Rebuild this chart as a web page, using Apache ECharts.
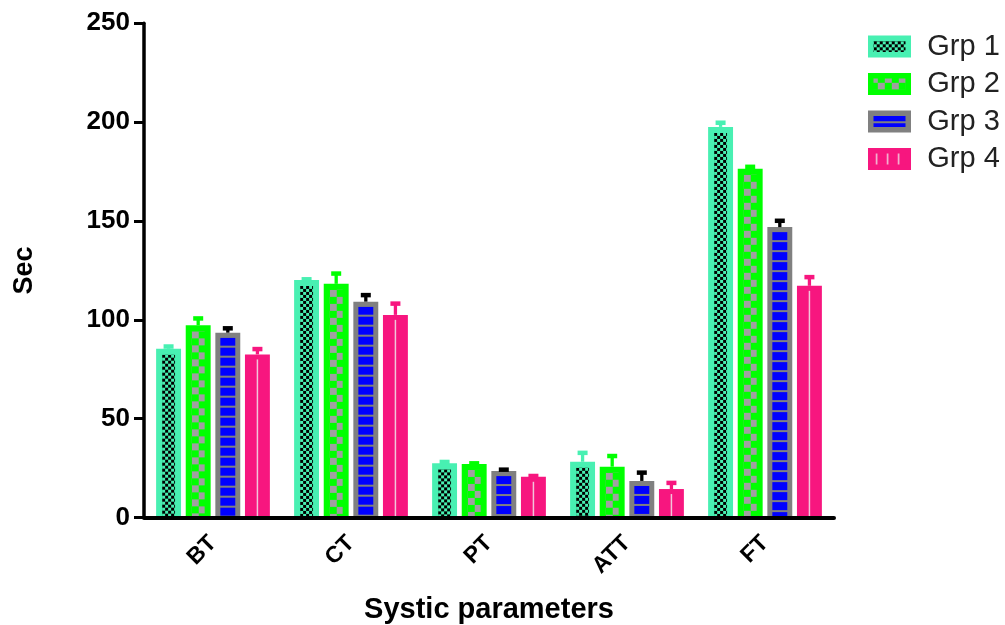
<!DOCTYPE html>
<html>
<head>
<meta charset="utf-8">
<script src="https://cdn.jsdelivr.net/npm/echarts@6/dist/echarts.min.js"></script>
<style>html,body{margin:0;padding:0;background:#fff;}#c{width:1005px;height:625px;}</style>
</head>
<body>
<div id="c"></div>
<script>
var categories = ['BT', 'CT', 'PT', 'ATT', 'FT'];
var groupNames = ['Grp 1', 'Grp 2', 'Grp 3', 'Grp 4'];
var grp1Mean = [85.4, 120.2, 27.4, 28.2, 197.6];
var grp1Err  = [1.1, 0.3, 0.7, 4.5, 2.1];
var grp2Mean = [97.2, 118.2, 27.1, 25.7, 176.4];
var grp2Err  = [3.5, 5.2, 0.3, 5.4, 1.0];
var grp3Mean = [93.5, 109.2, 23.5, 18.5, 146.9];
var grp3Err  = [2.2, 3.3, 0.7, 4.2, 3.2];
var grp4Mean = [82.5, 102.5, 20.6, 14.4, 117.2];
var grp4Err  = [2.7, 5.7, 0.4, 3.1, 4.4];
var yTicks = [0, 50, 100, 150, 200, 250];

var means = [grp1Mean, grp2Mean, grp3Mean, grp4Mean];
var errs = [grp1Err, grp2Err, grp3Err, grp4Err];

var AQUA = '#48F0B2', LIME = '#00FF00', GRAY = '#808080', BLUE = '#0000FF', PINK = '#F7167F';
var mainColors = [AQUA, LIME, GRAY, PINK];
var capColors = [AQUA, LIME, '#000000', PINK];

function mkCanvas(w, h, draw) {
  var c = document.createElement('canvas');
  c.width = w; c.height = h;
  draw(c.getContext('2d'));
  return c;
}
var img1 = mkCanvas(6, 6, function (g) {
  g.fillStyle = AQUA; g.fillRect(0, 0, 6, 6);
  g.fillStyle = '#000'; g.fillRect(0, 0, 3, 3); g.fillRect(3, 3, 3, 3);
});
var img2 = mkCanvas(14, 14, function (g) {
  g.fillStyle = LIME; g.fillRect(0, 0, 14, 14);
  g.fillStyle = '#A0A0A0'; g.fillRect(0, 0, 7, 7); g.fillRect(7, 7, 7, 7);
});
var img3 = mkCanvas(4, 10, function (g) {
  g.fillStyle = BLUE; g.fillRect(0, 0, 4, 10);
  g.fillStyle = GRAY; g.fillRect(0, 8, 4, 2);
});
var img4 = mkCanvas(11, 4, function (g) {
  g.fillStyle = PINK; g.fillRect(0, 0, 11, 4);
  g.fillStyle = '#F2C4DA'; g.fillRect(5, 0, 1.5, 4);
});
var imgs = [img1, img2, img3, null];
var borderW = [6, 6, 5, 0];

function makeRender(gi) {
  return function (params, api) {
    var cat = api.value(0), mean = api.value(1), err = api.value(2);
    var base = api.coord([cat, 0]);
    var top = api.coord([cat, mean]);
    var eTop = api.coord([cat, mean + err]);
    var band = api.size([1, 0])[0];
    var pitch = band * 0.2146, w = band * 0.1806;
    var cx = base[0] + (gi - 1.5) * pitch;
    var x0 = cx - w / 2;
    var h = base[1] - top[1];
    var children = [];
    children.push({ type: 'rect', shape: { x: x0, y: top[1], width: w, height: h }, style: { fill: mainColors[gi] } });
    var bw = borderW[gi];
    if (imgs[gi]) {
      children.push({ type: 'rect', shape: { x: x0 + bw, y: top[1] + bw, width: w - 2 * bw, height: Math.max(0, h - bw) },
        style: { fill: { image: imgs[gi], repeat: 'repeat', x: x0 + bw, y: top[1] + bw } } });
    } else {
      children.push({ type: 'rect', shape: { x: cx - 0.75, y: top[1] + 5, width: 1.5, height: Math.max(0, h - 5) }, style: { fill: '#F2C4DA' } });
    }
    children.push({ type: 'rect', shape: { x: cx - 1.65, y: eTop[1], width: 3.3, height: top[1] - eTop[1] }, style: { fill: capColors[gi] } });
    children.push({ type: 'rect', shape: { x: cx - 5, y: eTop[1] - 2.25, width: 10, height: 4.5 }, style: { fill: capColors[gi] } });
    return { type: 'group', children: children };
  };
}

var series = groupNames.map(function (name, gi) {
  return {
    name: name,
    type: 'custom',
    renderItem: makeRender(gi),
    encode: { x: 0, y: 1 },
    itemStyle: { color: mainColors[gi] },
    data: categories.map(function (c, i) { return [i, means[gi][i], errs[gi][i]]; })
  };
});

var legendPatterns = [
  { image: img1, repeat: 'repeat' },
  { image: img2, repeat: 'repeat' },
  { image: img3, repeat: 'repeat' },
  { image: img4, repeat: 'repeat' }
];

var chart = echarts.init(document.getElementById('c'), null, { renderer: 'canvas' });
chart.setOption({
  animation: false,
  backgroundColor: '#fff',
  grid: { left: 144, right: 171, top: 23.3, bottom: 107.5, containLabel: false, outerBoundsMode: 'none' },
  legend: {
    orient: 'vertical',
    left: 868, top: 32,
    padding: 0,
    icon: 'rect',
    itemWidth: 37.5, itemHeight: 16.5, itemGap: 8.5,
    textStyle: { fontFamily: 'Liberation Sans', fontSize: 29, color: '#222', lineHeight: 29, padding: [0, 0, 0, 14] },
    data: groupNames.map(function (n, gi) {
      return { name: n, itemStyle: { color: legendPatterns[gi], borderColor: mainColors[gi], borderWidth: 5.5 } };
    })
  },
  xAxis: {
    type: 'category',
    data: categories,
    z: 5,
    name: 'Systic parameters',
    nameLocation: 'middle',
    nameGap: 78,
    nameTextStyle: { fontFamily: 'Liberation Sans', fontWeight: 'bold', fontSize: 29, color: '#000' },
    axisLine: { lineStyle: { color: '#000', width: 4 } },
    axisTick: { alignWithLabel: true, length: 8, lineStyle: { color: '#000', width: 3 } },
    axisLabel: { rotate: 45, margin: 22, fontFamily: 'Liberation Sans', fontWeight: 'bold', fontSize: 23, color: '#000' }
  },
  yAxis: {
    type: 'value',
    min: 0, max: 250, interval: 50,
    z: 5,
    name: 'Sec',
    nameLocation: 'middle',
    nameGap: 106,
    nameTextStyle: { fontFamily: 'Liberation Sans', fontWeight: 'bold', fontSize: 27, color: '#000' },
    splitLine: { show: false },
    axisLine: { show: true, lineStyle: { color: '#000', width: 3.5 } },
    axisTick: { show: true, length: 10, lineStyle: { color: '#000', width: 3 } },
    axisLabel: { margin: 14, fontFamily: 'Liberation Sans', fontWeight: 'bold', fontSize: 26, color: '#000',
      formatter: function (v) { return yTicks.indexOf(v) >= 0 ? String(v) : ''; } }
  },
  series: series
});
</script>
</body>
</html>
